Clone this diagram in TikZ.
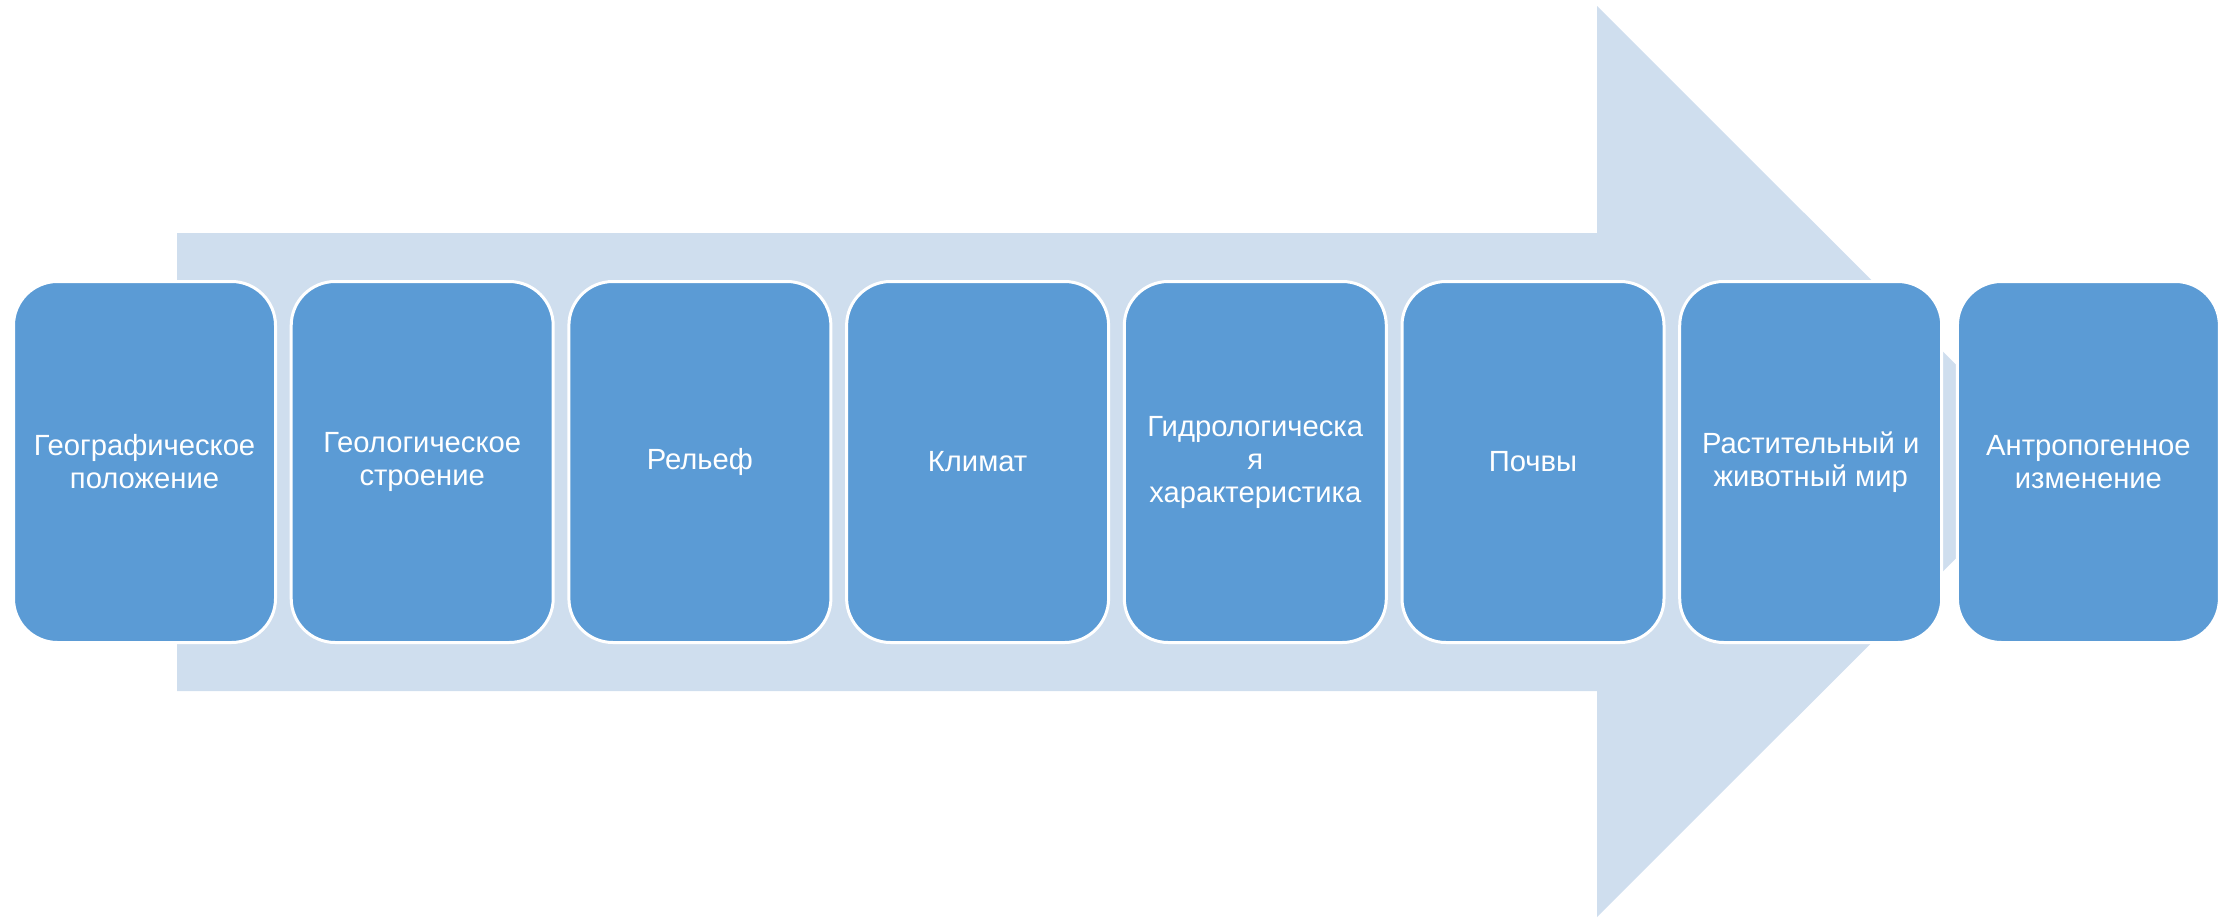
\documentclass[tikz,border=0pt]{standalone}
\usepackage{fontspec}
\setmainfont{Liberation Sans}
\definecolor{boxblue}{HTML}{5B9BD5}
\definecolor{arrowblue}{HTML}{CFDEEE}
\begin{document}
\begin{tikzpicture}[x=1pt,y=-1pt,
  stepbox/.style={draw=white, line width=3pt, fill=boxblue, rounded corners=44pt,
    minimum width=262pt, minimum height=361pt, text=white,
    font=\fontsize{29.2}{33}\selectfont, align=center, inner sep=0pt, anchor=north west}]
\useasboundingbox (0,0) rectangle (2234,918);
\fill[arrowblue] (177,233) -- (1597,233) -- (1597,6) -- (2053,461.5) -- (1597,917) -- (1597,691) -- (177,691) -- cycle;
\node[stepbox] (b1) at (12,280) {Географическое\\положение};
\node[stepbox] (b2) at (289.7,280) {Геологическое\\строение};
\node[stepbox] (b3) at (567.4,280) {Рельеф};
\node[stepbox] (b4) at (845.1,280) {Климат};
\node[stepbox] (b5) at (1122.8,280) {Гидрологическа\\я\\характеристика};
\node[stepbox] (b6) at (1400.5,280) {Почвы};
\node[stepbox] (b7) at (1678.2,280) {Растительный и\\животный мир};
\node[stepbox] (b8) at (1955.9,280) {Антропогенное\\изменение};
\end{tikzpicture}
\end{document}
